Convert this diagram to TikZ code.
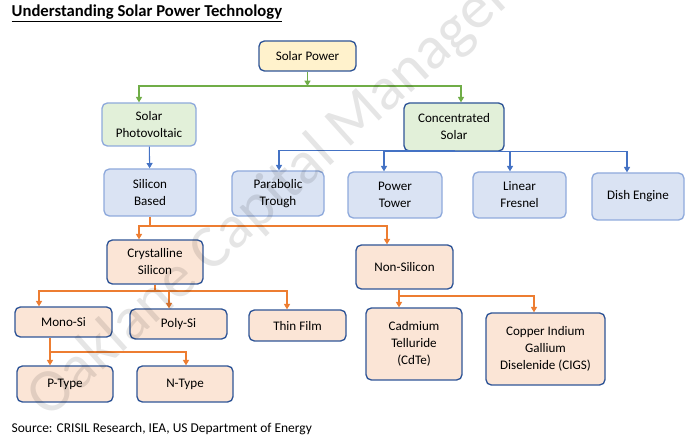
\documentclass[tikz,border=0pt]{standalone}
\usepackage{fontspec}
\setmainfont{Carlito}
\usetikzlibrary{arrows.meta,calc}
\definecolor{boxEdge}{HTML}{2F5597}
\definecolor{paleEdge}{HTML}{8FAADC}
\definecolor{sunFill}{HTML}{FFF2CC}
\definecolor{leafFill}{HTML}{E2F0D9}
\definecolor{skyFill}{HTML}{DAE3F3}
\definecolor{peachFill}{HTML}{FBE5D6}
\definecolor{greenLine}{HTML}{70AD47}
\definecolor{blueLine}{HTML}{4472C4}
\definecolor{orangeLine}{HTML}{ED7D31}

\begin{document}
\begin{tikzpicture}[x=0.75pt, y=-0.75pt, >={Triangle[length=4pt,width=4.5pt]}]

    \tikzset{box/.style={draw=boxEdge, line width=1pt, rounded corners=4pt,
        align=center, inner sep=1pt, font=\fontsize{9.8}{12.75}\selectfont},
        wh/.style 2 args={minimum width=#1*0.75pt, minimum height=#2*0.75pt},
        sun/.style={box, fill=sunFill},
        leaf/.style={box, fill=leafFill},
        sky/.style={box, fill=skyFill, draw=paleEdge},
        peach/.style={box, fill=peachFill},
        gline/.style={draw=greenLine, line width=0.8pt},
        bline/.style={draw=blueLine, line width=0.8pt},
        oline/.style={draw=orangeLine, line width=0.8pt}}

    \useasboundingbox (0,0) rectangle (690,438);

    % heading and source line
    \node[anchor=base west, font=\bfseries\fontsize{12.5}{15}\selectfont] (title) at (7,17)
        {\underline{Understanding Solar Power Technology}};
    \node[anchor=base west, font=\fontsize{10.1}{12}\selectfont] (src) at (7,433)
        {Source: CRISIL Research, IEA, US Department of Energy};

    % top two levels
    \node[sun, wh={97}{30}] (sp) at (307.5,56) {Solar Power};
    \node[leaf, wh={94}{43}, draw=paleEdge] (pv) at (149,124.5) {Solar\\Photovoltaic};
    \node[leaf, wh={100}{48}] (cs) at (454,127) {Concentrated\\Solar};

    % blue level
    \node[sky, wh={92}{47}] (sb) at (150,192.5) {Silicon\\Based};
    \node[sky, wh={92}{45}] (pt) at (278,193.5) {Parabolic\\Trough};
    \node[sky, wh={94}{46}] (tw) at (395,195) {Power\\Tower};
    \node[sky, wh={93}{46}] (lf) at (519.5,195) {Linear\\Fresnel};
    \node[sky, wh={92}{47}] (de) at (638,196.5) {Dish Engine};

    % orange levels
    \node[peach, wh={96}{44}] (cry) at (155,262) {Crystalline\\Silicon};
    \node[peach, wh={97}{44}] (ns) at (404.5,267) {Non-Silicon};
    \node[peach, wh={97}{30}] (mono) at (63.5,322) {Mono-Si};
    \node[peach, wh={97}{30}] (poly) at (178.5,324) {Poly-Si};
    \node[peach, wh={97}{31}] (thin) at (297.5,325.5) {Thin Film};
    \node[peach, wh={96}{36}] (ptype) at (65,384) {P-Type};
    \node[peach, wh={96}{36}] (ntype) at (185,384) {N-Type};
    \node[peach, wh={96}{72}] (cdte) at (414,344) {Cadmium\\Telluride\\(CdTe)};
    \node[peach, wh={119}{72}] (cigs) at (545.5,349) {Copper Indium\\Gallium\\Diselenide (CIGS)};

    % bus points
    \coordinate (gbus) at (307.5,86);
    \coordinate (obus) at (150,226);
    \coordinate (cbus) at (155,291);
    \coordinate (mbus) at (50,352);
    \coordinate (nbus) at (399,296);

    % green connectors
    \draw[gline,->] (sp) -- (gbus);
    \draw[gline,->] (gbus) -| ($(pv.north)+(-10,0)$);
    \draw[gline,->] (gbus) -| ($(cs.north)+(7,0)$);

    % blue connectors
    \draw[bline,->] (pv) -- (sb);
    \draw[bline,->] (cs.south) |- ($(pt.north)+(1,-20)$) -- ($(pt.north)+(1,0)$);
    \draw[bline,->] (cs.south) |- ($(tw.north)+(-11,-20)$) -- ($(tw.north)+(-11,0)$);
    \draw[bline,->] (cs.south) |- ($(lf.north)+(-9.5,-20)$) -- ($(lf.north)+(-9.5,0)$);
    \draw[bline,->] (cs.south) |- ($(de.north)+(-11,-21)$) -- ($(de.north)+(-11,0)$);

    % orange connectors
    \draw[oline] (sb) -- (obus);
    \draw[oline,->] (obus) -| ($(cry.north)+(-16,0)$);
    \draw[oline,->] (obus) -| ($(ns.north)+(-17.5,0)$);
    \draw[oline] (cry) -- (cbus);
    \draw[oline,->] (cbus) -| ($(mono.north)+(-24.5,0)$);
    \draw[oline,->] (cbus) -| ($(poly.north)+(-9.5,0)$);
    \draw[oline,->] (cbus) -| ($(thin.north)+(-10.5,0)$);
    \draw[oline] ($(mono.south)+(-13.5,0)$) -- (mbus);
    \draw[oline,->] (mbus) -| ($(ptype.north)+(-15,0)$);
    \draw[oline,->] (mbus) -| ($(ntype.north)+(1,0)$);
    \draw[oline] ($(ns.south)+(-5.5,0)$) -- (nbus);
    \draw[oline,->] (nbus) -| ($(cdte.north)+(-15,0)$);
    \draw[oline,->] (nbus) -| ($(cigs.north)+(-11.5,0)$);

    % watermark
    \begin{scope}
        \clip (0,0) rectangle (690,438);
        \node[anchor=base west, rotate=42, text=black, text opacity=0.1,
            inner sep=0pt, font=\fontsize{46}{46}\selectfont] (mark) at (48,420)
            {Oaklane Capital Management};
    \end{scope}

\end{tikzpicture}
\end{document}
